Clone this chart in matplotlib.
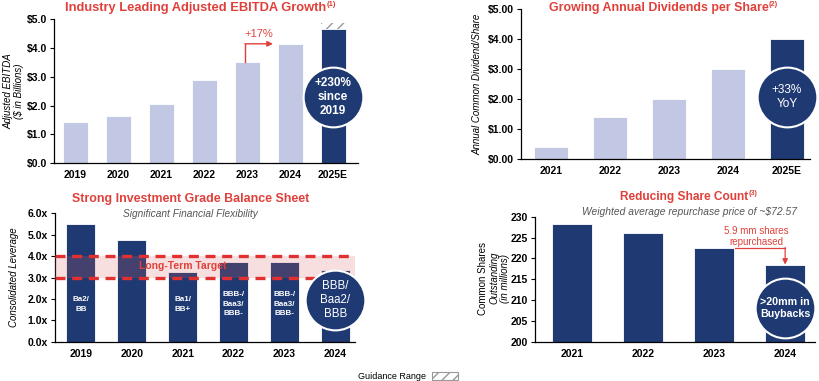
import matplotlib
matplotlib.use("Agg")
import matplotlib.pyplot as plt
import matplotlib.patches as mpatches
import numpy as np

plt.rcParams['font.family'] = ['Liberation Sans', 'DejaVu Sans']

# ---- data ----
ebitda_years = ['2019', '2020', '2021', '2022', '2023', '2024', '2025E']
ebitda_vals = [1.42, 1.63, 2.04, 2.89, 3.52, 4.14, 4.64]
ebitda_guidance_top = 4.85

div_years = ['2021', '2022', '2023', '2024', '2025E']
div_vals = [0.40, 1.40, 2.00, 3.00, 4.00]

lev_years = ['2019', '2020', '2021', '2022', '2023', '2024']
lev_vals = [5.5, 4.75, 3.24, 3.72, 3.72, 3.35]
lev_ratings = ['Ba2/\nBB', '', 'Ba1/\nBB+', 'BBB-/\nBaa3/\nBBB-', 'BBB-/\nBaa3/\nBBB-', '']
target_low, target_high = 3.0, 4.0

share_years = ['2021', '2022', '2023', '2024']
share_vals = [228.2, 226.1, 222.6, 218.3]

LIGHT = '#c2c8e4'
NAVY = '#1f3a73'
RED = '#e0403a'
GRAY = '#555555'

fig = plt.figure(figsize=(8.2, 3.81), dpi=100)


def style_axes(ax):
    for s in ['top', 'right']:
        ax.spines[s].set_visible(False)
    for s in ['left', 'bottom']:
        ax.spines[s].set_linewidth(0.9)
    ax.tick_params(axis='x', length=0, pad=5, labelsize=7.5)
    ax.tick_params(axis='y', length=3, width=0.8, labelsize=7.5, pad=2)
    for lab in ax.get_xticklabels() + ax.get_yticklabels():
        lab.set_fontweight('bold')


def title_with_note(x, y, text, note, size=9):
    t = fig.text(x, y, text, ha='center', va='center', color=RED,
                 fontsize=size, fontweight='bold')
    if note:
        # superscript footnote marker right after the title
        plt.annotate(note, xy=(1, 0.75), xycoords=t, xytext=(0.5, 0),
                     textcoords='offset points', ha='left', va='center',
                     color=RED, fontsize=size * 0.6, fontweight='bold')
    return t


def circle(ax, x, y, text, size=8.5, weight='bold'):
    ax.scatter([x], [y], s=1850, color=NAVY, edgecolors='white',
               linewidths=1.5, zorder=5, clip_on=False)
    ax.text(x, y, text, ha='center', va='center', color='white',
            fontsize=size, fontweight=weight, zorder=6, linespacing=1.2)


# ---- chart 1: Adjusted EBITDA ----
ax1 = fig.add_axes([0.0659, 0.5714, 0.3707, 0.3787])
x1 = np.arange(len(ebitda_years))
colors1 = [LIGHT] * (len(x1) - 1) + [NAVY]
ax1.bar(x1, ebitda_vals, width=0.58, color=colors1, edgecolor='white', linewidth=0.6)
ax1.bar(x1[-1], ebitda_guidance_top - ebitda_vals[-1], bottom=ebitda_vals[-1],
        width=0.58, color='white', edgecolor='#999999', hatch='///', linewidth=0)
ax1.set_xlim(-0.49, 6.58)
ax1.set_ylim(0, 5)
ax1.set_xticks(x1, ebitda_years)
ax1.set_yticks(np.arange(0, 5.1, 1.0))
ax1.set_yticklabels(['${:.1f}'.format(v) for v in np.arange(0, 5.1, 1.0)])
ax1.set_ylabel('Adjusted EBITDA\n($ in Billions)', fontsize=7, fontstyle='italic',
               labelpad=2, linespacing=1.1)
style_axes(ax1)
# +17% arrow from 2023 to 2024
ax1.annotate('', xy=(4.6, ebitda_vals[5]), xytext=(3.95, ebitda_vals[5]),
             arrowprops=dict(arrowstyle='-|>', color=RED, lw=1.0,
                             mutation_scale=8, shrinkA=0, shrinkB=0))
ax1.plot([3.95, 3.95], [ebitda_vals[4], ebitda_vals[5]], color=RED, lw=1.0)
ax1.text(4.28, 4.48, '+17%', color=RED, fontsize=8, ha='center', va='center')
circle(ax1, 6, 2.3, '+230%\nsince\n2019')
title_with_note(0.238, 0.980, 'Industry Leading Adjusted EBITDA Growth', '(1)', size=9.3)

# ---- chart 2: Dividends ----
ax2 = fig.add_axes([0.6354, 0.5827, 0.3524, 0.3929])
x2 = np.arange(len(div_years))
colors2 = [LIGHT] * (len(x2) - 1) + [NAVY]
ax2.bar(x2, div_vals, width=0.58, color=colors2, edgecolor='white', linewidth=0.6)
ax2.set_xlim(-0.51, 4.39)
ax2.set_ylim(0, 5)
ax2.set_xticks(x2, div_years)
ax2.set_yticks(np.arange(0, 5.1, 1.0))
ax2.set_yticklabels(['${:.2f}'.format(v) for v in np.arange(0, 5.1, 1.0)])
ax2.set_ylabel('Annual Common Dividend/Share', fontsize=7, fontstyle='italic', labelpad=4)
style_axes(ax2)
circle(ax2, 4, 2.07, '+33%\nYoY', size=8.5, weight='normal')
title_with_note(0.803, 0.980, 'Growing Annual Dividends per Share', '(2)', size=8.9)

# ---- chart 3: Leverage ----
ax3 = fig.add_axes([0.0671, 0.1032, 0.3659, 0.3368])
x3 = np.arange(len(lev_years))
ax3.bar(x3, lev_vals, width=0.57, color=NAVY, edgecolor='white', linewidth=0.6)
ax3.set_xlim(-0.51, 5.39)
ax3.set_ylim(0, 6)
ax3.axhspan(target_low, target_high, color='#e06060', alpha=0.2, lw=0, zorder=3)
for yv in (target_low, target_high):
    ax3.axhline(yv, color='#e03030', lw=2.4, ls=(0, (3, 2)), zorder=4)
ax3.text(2.0, 3.54, 'Long-Term Target', color=RED, fontsize=7.5, fontweight='bold',
         ha='center', va='center', zorder=5)
for xi, lab in zip(x3, lev_ratings):
    if lab:
        ax3.text(xi, 1.75, lab, color='white', fontsize=5.8, fontweight='bold',
                 ha='center', va='center', linespacing=1.5, zorder=5)
ax3.set_xticks(x3, lev_years)
ax3.set_yticks(np.arange(0, 6.1, 1.0))
ax3.set_yticklabels(['{:.1f}x'.format(v) for v in np.arange(0, 6.1, 1.0)])
ax3.set_ylabel('Consolidated Leverage', fontsize=7, fontstyle='italic', labelpad=6)
style_axes(ax3)
circle(ax3, 5, 1.95, 'BBB/\nBaa2/\nBBB', size=8.3, weight='normal')
title_with_note(0.233, 0.478, 'Strong Investment Grade Balance Sheet', None, size=8.9)
fig.text(0.232, 0.438, 'Significant Financial Flexibility', ha='center', va='center',
         fontsize=7.3, fontstyle='italic', color=GRAY)

# ---- chart 4: Share count ----
ax4 = fig.add_axes([0.6524, 0.1032, 0.3415, 0.3281])
x4 = np.arange(len(share_years))
ax4.bar(x4, [v - 200 for v in share_vals], bottom=200, width=0.57, color=NAVY,
        edgecolor='white', linewidth=0.6)
ax4.set_xlim(-0.52, 3.42)
ax4.set_ylim(200, 230)
ax4.set_xticks(x4, share_years)
ax4.set_yticks(np.arange(200, 231, 5))
style_axes(ax4)
fig.text(0.589, 0.27, 'Common Shares', rotation=90, ha='center', va='center', fontsize=7)
fig.text(0.6025, 0.27, 'Outstanding', rotation=90, ha='center', va='center',
         fontsize=7, fontstyle='italic')
fig.text(0.616, 0.27, '(in millions)', rotation=90, ha='center', va='center',
         fontsize=7, fontstyle='italic')
# 5.9 mm arrow
ax4.plot([2.29, 3.0], [share_vals[2], share_vals[2]], color=RED, lw=0.9)
ax4.annotate('', xy=(3.0, share_vals[3] + 0.2), xytext=(3.0, share_vals[2]),
             arrowprops=dict(arrowstyle='-|>', color=RED, lw=0.9,
                             mutation_scale=8, shrinkA=0, shrinkB=0))
ax4.text(2.6, 225.3, '5.9 mm shares\nrepurchased', color=RED, fontsize=7,
         ha='center', va='center', linespacing=1.1)
circle(ax4, 3, 208.1, '>20mm in\nBuybacks', size=7.7)
title_with_note(0.834, 0.483, 'Reducing Share Count', '(3)', size=8.6)
fig.text(0.841, 0.443, 'Weighted average repurchase price of ~$72.57', ha='center',
         va='center', fontsize=7.4, fontstyle='italic', color=GRAY)

# ---- guidance range legend ----
fig.text(0.52, 0.013, 'Guidance Range', ha='right', va='center', fontsize=6.5)
fig.patches.append(mpatches.Rectangle((0.527, 0.002), 0.031, 0.022,
                                      transform=fig.transFigure, facecolor='white',
                                      edgecolor='#999999', hatch='///', lw=0.8))

fig.savefig('out.png', dpi=100)
